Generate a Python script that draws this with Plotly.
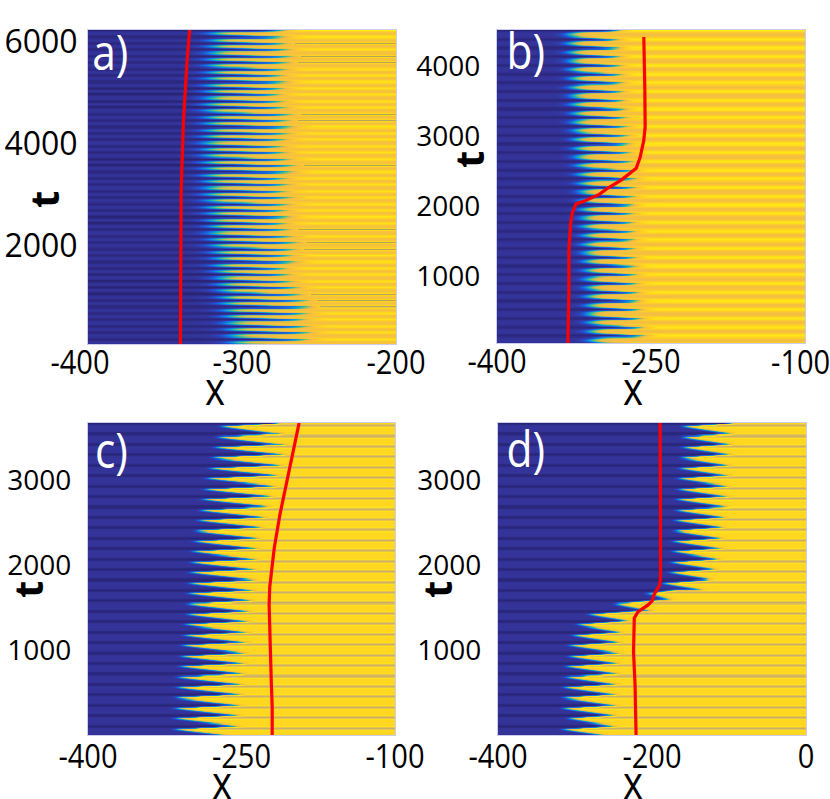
import numpy as np
import plotly.graph_objects as go

# ---- spatial front: one value per oscillation, bottom to top ----
a_left = [-307,-308,-309,-310,-311,-312,-313,-314,-315,-315,
          -316,-317,-318,-318,-319,-320,-320,-321,-321,-322,
          -322,-323,-323,-324,-324,-324,-325,-325,-325,-325,
          -325,-325,-325,-324,-324,-324,-324,-324,-323,-323,
          -323,-323,-322,-322,-322,-321,-321,-320,-320]
a_right = [-258,-256,-258,-260,-258,-256,-258,-262,-264,-268,
           -270,-272,-266,-268,-266,-264,-268,-270,-272,-270,
           -272,-270,-268,-272,-270,-272,-268,-266,-270,-272,
           -274,-272,-270,-268,-270,-268,-272,-274,-276,-274,
           -272,-274,-272,-270,-268,-270,-272,-274,-275]
a_olive_rows = [46,44,43,35,34,27,17,15,14,7,6,5]
a_dark_rows = [39,37,28,19,10,8]

b_left = [-310,-311,-311,-312,-312,-313,-313,-314,-314,-315,
          -315,-316,-316,-317,-317,-318,-318,-319,-320,-321,
          -322,-323,-324,-325,-325,-326,-326,-327,-327,-328,
          -328,-329,-329,-330,-331,-331]
b_right = [-256,-258,-259,-260,-262,-262,-263,-264,-265,-265,
           -266,-266,-266,-267,-267,-267,-266,-265,-264,-265,
           -268,-270,-271,-272,-273,-274,-275,-276,-277,-277,
           -278,-279,-280,-281,-282,-282]

c_left = [-313,-313,-313,-312,-311,-310,-308,-307,-306,-304,
          -303,-301,-300,-300,-299,-298,-297,-296,-294,-292,
          -290,-288,-286,-284,-282,-279,-276,-274,-271,-268]
c_right = [-255,-254,-253,-252,-251,-250,-249,-248,-247,-246,
           -245,-244,-242,-240,-239,-238,-237,-236,-235,-232,
           -229,-226,-222,-219,-216,-213,-210,-209,-212,-216]

d_left = [-313,-306,-313,-312,-312,-309,-309,-305,-305,-300,
          -294,-279,-244,-203,-184,-175,-173,-171,-171,-168,
          -168,-166,-166,-164,-164,-162,-160,-158,-158,-158]
d_right = [-250,-250,-248,-248,-248,-246,-246,-244,-244,-242,
           -240,-225,-197,-175,-130,-121,-117,-112,-112,-110,
           -108,-106,-104,-104,-103,-103,-101,-100,-99,-99]

# ---- row profile inside one oscillation ----
a_phase = [.5,.1,0,.1,.85,1]
a_low = [.05,.08,.08,.08,.05,.03]
a_high = [.92,.82,.78,.82,.92,1]
b_phase = [.6,.2,.05,0,.05,.2,.85,1]
b_low = [.05,.08,.08,.08,.08,.08,.05,.03]
b_high = [.95,.88,.80,.78,.80,.88,.95,1]
c_phase = [.85,.7,.55,.4,.25,.12,0,.35,.7,1]
c_low = [.04,.08,.08,.08,.08,.08,.08,.08,.04,.02]
c_high = [.92,.92,.92,.92,.92,.92,1.12,1.22,1.12,.92]

# ---- red curves ----
a_line_t = [80,2000,3098,4470,5040,5700,6235]
a_line_x = [-340,-340,-339.5,-338,-337,-335.5,-334]
b_line_t = [43,757,1370,1757,1900,2030,2070,2170,2240,2370,2540,2700,2940,3130,3660,4415]
b_line_x = [-331,-330,-330,-328.3,-326.7,-323,-315,-300,-293.6,-279,-264.4,-260.5,-257,-255.7,-256,-257]
c_line_t = [0,318,670,1094,1530,1740,1790,2200,2590,2980,3370,3670]
c_line_x = [-220,-220,-221,-222,-223,-222.4,-222,-218,-212.5,-206,-199.5,-193.7]
d_line_t = [0,590,980,1376,1450,1530,1580,1650,1765,1850,2590,3670]
d_line_x = [-220.7,-222,-224,-223,-218,-205,-199.6,-197.4,-190,-189,-189,-189.5]

Z_TOP = 1.4
color_stops = [(0,'#241d66'),(.08,'#333399'),(.2,'#1f55d8'),(.35,'#0a8fe0'),(.5,'#2eb8a2'),
               (.62,'#90c068'),(.72,'#e8b84a'),(.8,'#f5c040'),(.9,'#ffd024'),(1,'#ffec12'),
               (1.1,'#e8c24a'),(1.2,'#bfae6f'),(1.4,'#a09212')]
colorscale = [[v/Z_TOP, c] for v, c in color_stops]

W, H = 830, 799

def field(xr, tr, left, right, phase, low, high, s, dark=(), olive=()):
    x = np.linspace(xr[0], xr[1], 308)
    rows = []
    for k in range(len(left)):
        for r, p in enumerate(phase):
            front = left[k] + (right[k]-left[k])*p
            lo = 0.0 if (k in dark and r in (0, len(phase)-1)) else low[r]
            rows.append(lo + (high[r]-lo)/(1+np.exp(-(x-front)/s)))
    z = np.array(rows, dtype=np.float32)
    soft = z.copy()
    soft[1:-1] = .2*z[:-2] + .6*z[1:-1] + .2*z[2:]   # the reference image is slightly blurred
    for k in olive:
        row = (k+1)*len(phase)-1
        soft[row, x > right[k]+6] = 1.25
    y = np.linspace(tr[0], tr[1], soft.shape[0])
    return x, y, soft

panels = [
 dict(px=(88,396), py=(30,344), xr=(-400,-200), tr=(80,6235), d=(a_left,a_right,a_phase,a_low,a_high,4.0),
      dark=a_dark_rows, olive=a_olive_rows, lx=a_line_x, lt=a_line_t,
      xt=[-400,-300,-200], yt=[2000,4000,6000], yfs=32, ylen=3, tag='a)', tagxy=(110,51)),
 dict(px=(497,805), py=(30,343), xr=(-400,-100), tr=(43,4514), d=(b_left,b_right,b_phase,b_low,b_high,4.0),
      dark=(), olive=(), lx=b_line_x, lt=b_line_t,
      xt=[-400,-250], yt=[1000,2000,3000,4000], yfs=28, ylen=10, tag='b)', tagxy=(525,50)),
 dict(px=(88,395), py=(423,735), xr=(-400,-100), tr=(0,3670), d=(c_left,c_right,c_phase,c_low,c_high,2.0),
      dark=(), olive=(), lx=c_line_x, lt=c_line_t,
      xt=[-400,-250,-100], yt=[1000,2000,3000], yfs=28, ylen=10, tag='c)', tagxy=(111,449)),
 dict(px=(498,806), py=(423,735), xr=(-400,0), tr=(0,3670), d=(d_left,d_right,c_phase,c_low,c_high,2.5),
      dark=(), olive=(), lx=d_line_x, lt=d_line_t,
      xt=[-400,-200,0], yt=[1000,2000,3000], yfs=28, ylen=10, tag='d)', tagxy=(525,448)),
]
x_titles = [(215,387),(633,387),(222,781),(633,781)]
t_titles = [(44,200),(468,160),(27,590),(436,590)]

fig = go.Figure()
layout = {}
ann = []
for i, p in enumerate(panels):
    n = '' if i == 0 else str(i+1)
    lf, rt, ph, lo, hi, s = p['d']
    x, y, z = field(p['xr'], p['tr'], lf, rt, ph, lo, hi, s, p['dark'], p['olive'])
    fig.add_trace(go.Heatmap(x=x, y=y, z=z, zmin=0, zmax=Z_TOP, zsmooth='best', colorscale=colorscale,
                             showscale=False, hoverinfo='skip', xaxis='x'+n, yaxis='y'+n))
    fig.add_trace(go.Scatter(x=p['lx'], y=p['lt'], mode='lines', line=dict(color='#ff0000', width=3.2),
                             showlegend=False, xaxis='x'+n, yaxis='y'+n))
    layout['xaxis'+n] = dict(domain=[p['px'][0]/W, p['px'][1]/W], range=list(p['xr']), anchor='y'+n,
                             tickvals=p['xt'], ticktext=[str(v) for v in p['xt']],
                             ticks='outside', ticklen=3, tickcolor='rgba(0,0,0,0)',
                             tickfont=dict(family='Open Sans', size=33, color='black'),
                             showgrid=False, zeroline=False, showline=True, mirror=True,
                             linecolor='#ccccee', linewidth=1, automargin=False)
    layout['yaxis'+n] = dict(domain=[1-p['py'][1]/H, 1-p['py'][0]/H], range=list(p['tr']), anchor='x'+n,
                             tickvals=p['yt'], ticktext=[str(v) for v in p['yt']],
                             ticks='outside', ticklen=p['ylen'], tickcolor='rgba(0,0,0,0)',
                             tickfont=dict(family='Open Sans', size=p['yfs'], color='black'),
                             showgrid=False, zeroline=False, showline=True, mirror=True,
                             linecolor='#ccccee', linewidth=1, automargin=False)
    ann.append(dict(text=p['tag'], x=p['tagxy'][0]/W, y=1-p['tagxy'][1]/H, xref='paper', yref='paper',
                    xanchor='center', yanchor='middle', showarrow=False,
                    font=dict(family='Open Sans', size=50, color='white')))
    ann.append(dict(text='x', x=x_titles[i][0]/W, y=1-x_titles[i][1]/H, xref='paper', yref='paper',
                    xanchor='center', yanchor='middle', showarrow=False,
                    font=dict(family='Open Sans', size=46, color='black')))
    ann.append(dict(text='<b>t</b>', x=t_titles[i][0]/W, y=1-t_titles[i][1]/H, xref='paper', yref='paper',
                    xanchor='center', yanchor='middle', showarrow=False, textangle=-90,
                    font=dict(family='Open Sans', size=40, color='black')))
# the right-hand tick label of panel b runs up to the page edge, so it is placed on its own
ann.append(dict(text='-100', x=800/W, y=1-361/H, xref='paper', yref='paper', xanchor='center',
                yanchor='middle', showarrow=False, font=dict(family='Open Sans', size=33, color='black')))

fig.update_layout(width=W, height=H, margin=dict(l=0,r=0,t=0,b=0), paper_bgcolor='white',
                  plot_bgcolor='white', showlegend=False, annotations=ann, **layout)

post = """
document.body.style.margin='0';document.body.style.overflow='hidden';
function squeeze(el,s,dy,dx){
  var b=el.getBBox(),cx=b.x+b.width/2,t=el.getAttribute('transform')||'';
  el.setAttribute('transform',t+' translate('+(dx||0)+','+dy+') translate('+cx+',0) scale('+s+',1) translate('+(-cx)+',0)');
}
document.querySelectorAll('.xtick text,.x2tick text,.x3tick text,.x4tick text').forEach(function(e){
  var r=e.getBoundingClientRect(),upper=r.top<400;
  var dx=(upper&&r.left<150&&e.textContent.indexOf('400')>=0)?-8:0;
  squeeze(e,.88,upper?-14:-11,dx);
});
document.querySelectorAll('.annotation-text').forEach(function(e){
  var s=e.textContent;
  if(s==='x')squeeze(e,.83,0);
  else if(s==='-100')squeeze(e,.88,0);
  else if(s.indexOf(')')>=0)squeeze(e,.85,0);
});
"""
fig.write_html("out.html", post_script=post, config=dict(displayModeBar=False))
